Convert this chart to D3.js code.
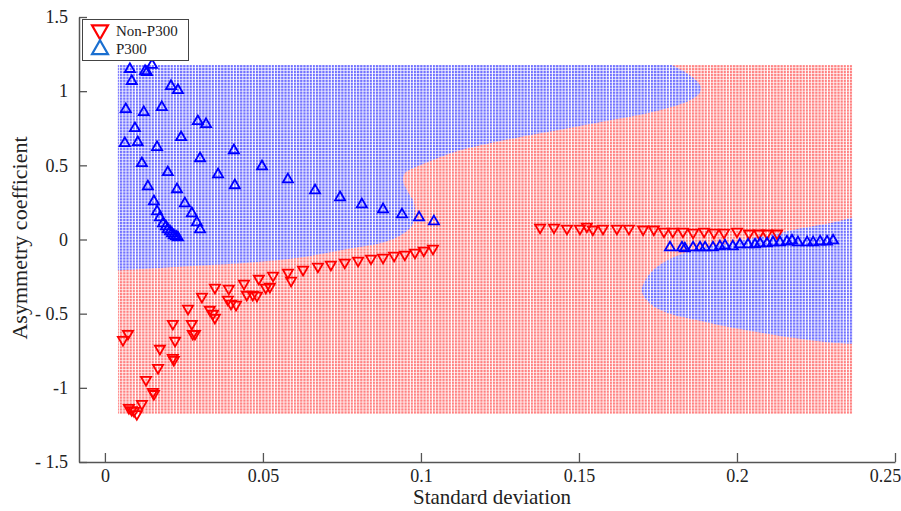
<!DOCTYPE html>
<html>
<head>
<meta charset="utf-8">
<script src="https://cdn.jsdelivr.net/npm/d3@7"></script>
<style>
  body { margin: 0; background: #fff; }
  svg { display: block; font-family: "Liberation Serif", "Times New Roman", serif; }
</style>
</head>
<body>
<div id="chart"></div>
<script>
// axes
const xTicks = [0, 0.05, 0.1, 0.15, 0.2, 0.25];
const xTickLabels = ["0", "0.05", "0.1", "0.15", "0.2", "0.25"];
const yTicks = [1.5, 1, 0.5, 0, -0.5, -1, -1.5];
const yTickLabels = ["1.5", "1", "0.5", "0", "- 0.5", "-1", "- 1.5"];

// extent of the classified grid
const gridX = [0.0041, 0.2365];
const gridY = [-1.176, 1.176];

// decision boundaries (data units)
const boundaryLeft = [
  [0.1794, 1.176], [0.1851, 1.108], [0.1883, 1.041], [0.1883, 0.993], [0.1851, 0.939],
  [0.1756, 0.872], [0.1566, 0.791], [0.1377, 0.716], [0.1218, 0.649], [0.1123, 0.601],
  [0.1060, 0.554], [0.0997, 0.500], [0.0949, 0.446], [0.0943, 0.399], [0.0956, 0.331],
  [0.0975, 0.264], [0.0981, 0.196], [0.0972, 0.095], [0.0934, 0.027], [0.0880, -0.020],
  [0.0775, -0.061], [0.0617, -0.122], [0.0459, -0.155], [0.0301, -0.176], [0.0041, -0.209]
];
const boundaryRight = [
  [0.2364, 0.149], [0.2304, 0.115], [0.2199, 0.074], [0.2095, 0.027], [0.1987, -0.020],
  [0.1883, -0.061], [0.1778, -0.142], [0.1725, -0.230], [0.1699, -0.345], [0.1725, -0.432],
  [0.1778, -0.493], [0.1883, -0.547], [0.1987, -0.595], [0.2095, -0.635], [0.2199, -0.669],
  [0.2304, -0.696], [0.2364, -0.703]
];

// P300 samples
const p300Cluster = [
  [0.0079, 1.149], [0.0127, 1.135], [0.0133, 1.128], [0.0149, 1.176], [0.0085, 1.068],
  [0.0209, 1.034], [0.0231, 1.007], [0.0066, 0.878], [0.0123, 0.858], [0.0180, 0.892],
  [0.0095, 0.750], [0.0294, 0.797], [0.0320, 0.777], [0.0063, 0.649], [0.0104, 0.655],
  [0.0241, 0.689], [0.0165, 0.622], [0.0408, 0.601], [0.0117, 0.514], [0.0301, 0.547],
  [0.0199, 0.453], [0.0358, 0.439], [0.0497, 0.493], [0.0411, 0.365], [0.0136, 0.358],
  [0.0228, 0.338], [0.0579, 0.405], [0.0155, 0.257], [0.0253, 0.243], [0.0165, 0.189],
  [0.0275, 0.176], [0.0174, 0.149], [0.0291, 0.115], [0.0184, 0.108], [0.0301, 0.068],
  [0.0193, 0.088], [0.0199, 0.068], [0.0206, 0.054], [0.0212, 0.041], [0.0218, 0.027],
  [0.0225, 0.020], [0.0231, 0.014],
  [0.0665, 0.331], [0.0744, 0.284], [0.0813, 0.236], [0.0880, 0.203], [0.0940, 0.169],
  [0.0994, 0.149], [0.1041, 0.122]
];
const p300Row = [
  [0.1788, -0.054], [0.1826, -0.054], [0.1835, -0.061], [0.1861, -0.054], [0.1883, -0.054],
  [0.1899, -0.054], [0.1924, -0.054], [0.1946, -0.047], [0.1962, -0.041], [0.1987, -0.047],
  [0.2009, -0.034], [0.2035, -0.034], [0.2057, -0.034], [0.2073, -0.027], [0.2095, -0.027],
  [0.2114, -0.020], [0.2136, -0.020], [0.2158, -0.014], [0.2174, -0.007], [0.2193, -0.020],
  [0.2222, -0.020], [0.2241, -0.020], [0.2263, -0.014], [0.2285, -0.014], [0.2304, -0.007]
];

// Non-P300 samples
const nonP300Cluster = [
  [0.0073, -0.635], [0.0057, -0.676], [0.0076, -1.135], [0.0085, -1.149], [0.0092, -1.155],
  [0.0101, -1.176], [0.0117, -1.108], [0.0130, -0.946], [0.0152, -1.027], [0.0155, -1.041],
  [0.0168, -0.865], [0.0174, -0.736], [0.0215, -0.797], [0.0218, -0.811], [0.0222, -0.682],
  [0.0215, -0.568], [0.0275, -0.568], [0.0278, -0.635], [0.0285, -0.635], [0.0263, -0.466],
  [0.0307, -0.385], [0.0332, -0.473], [0.0342, -0.500], [0.0348, -0.527], [0.0348, -0.324],
  [0.0392, -0.331], [0.0389, -0.405], [0.0399, -0.432], [0.0415, -0.439], [0.0440, -0.297],
  [0.0449, -0.372], [0.0468, -0.372], [0.0481, -0.378], [0.0487, -0.264], [0.0509, -0.324],
  [0.0522, -0.318], [0.0532, -0.243], [0.0589, -0.277], [0.0579, -0.223], [0.0627, -0.203],
  [0.0674, -0.182], [0.0715, -0.169], [0.0759, -0.155], [0.0801, -0.142], [0.0842, -0.128],
  [0.0880, -0.122], [0.0915, -0.108], [0.0949, -0.101], [0.0981, -0.088], [0.1009, -0.074],
  [0.1038, -0.061]
];
const nonP300Row = [
  [0.1377, 0.081], [0.1421, 0.081], [0.1462, 0.074], [0.1503, 0.074], [0.1525, 0.088],
  [0.1544, 0.068], [0.1576, 0.074], [0.1620, 0.074], [0.1658, 0.074], [0.1703, 0.068],
  [0.1737, 0.068], [0.1769, 0.054], [0.1797, 0.054], [0.1829, 0.054], [0.1861, 0.047],
  [0.1896, 0.054], [0.1927, 0.047], [0.1959, 0.047], [0.2000, 0.054], [0.2038, 0.041],
  [0.2070, 0.041], [0.2095, 0.041], [0.2127, 0.041]
];

const width = 901, height = 511;
const red = "#ff0000", blue = "#0000ff";

const x = d3.scaleLinear().domain([-0.0082, 0.25]).range([79, 895]);
const y = d3.scaleLinear().domain([-1.5, 1.5]).range([462, 17]);

const svg = d3.select("#chart").append("svg")
  .attr("width", width)
  .attr("height", height);

// dotted mesh look of the classified grid
const defs = svg.append("defs");
function meshPattern(id, color) {
  const p = defs.append("pattern")
    .attr("id", id)
    .attr("patternUnits", "userSpaceOnUse")
    .attr("width", 3.16)
    .attr("height", 2.96);
  p.append("rect").attr("width", 3.16).attr("height", 2.96).attr("fill", "#fff");
  p.append("rect").attr("width", 2.2).attr("height", 2.3).attr("fill", color);
}
meshPattern("meshRed", "#ff8080");
meshPattern("meshBlue", "#7070ff");

defs.append("clipPath").attr("id", "gridClip")
  .append("rect")
  .attr("x", x(gridX[0]))
  .attr("y", y(gridY[1]))
  .attr("width", x(gridX[1]) - x(gridX[0]))
  .attr("height", y(gridY[0]) - y(gridY[1]));

const regions = svg.append("g").attr("clip-path", "url(#gridClip)");

regions.append("rect")
  .attr("x", x(gridX[0]))
  .attr("y", y(gridY[1]))
  .attr("width", x(gridX[1]) - x(gridX[0]))
  .attr("height", y(gridY[0]) - y(gridY[1]))
  .attr("fill", "url(#meshRed)");

const curve = d3.line()
  .x(d => x(d[0]))
  .y(d => y(d[1]))
  .curve(d3.curveCatmullRom.alpha(0.5));

// upper-left P300 region
regions.append("path")
  .attr("d", "M" + x(gridX[0] - 0.01) + "," + y(gridY[1] + 0.1) +
    "L" + x(boundaryLeft[0][0]) + "," + y(gridY[1] + 0.1) +
    curve(boundaryLeft).replace(/^M/, "L") +
    "L" + x(gridX[0] - 0.01) + "," + y(boundaryLeft[boundaryLeft.length - 1][1]) + "Z")
  .attr("fill", "url(#meshBlue)");

// right P300 region
regions.append("path")
  .attr("d", curve(boundaryRight) +
    "L" + x(gridX[1] + 0.01) + "," + y(boundaryRight[boundaryRight.length - 1][1]) +
    "L" + x(gridX[1] + 0.01) + "," + y(boundaryRight[0][1]) + "Z")
  .attr("fill", "url(#meshBlue)");

// axes
const xAxis = d3.axisBottom(x)
  .tickValues(xTicks)
  .tickFormat((d, i) => xTickLabels[i])
  .tickSize(-9)
  .tickSizeOuter(0)
  .tickPadding(7);
const yAxis = d3.axisLeft(y)
  .tickValues(yTicks)
  .tickFormat((d, i) => yTickLabels[i])
  .tickSize(-8)
  .tickSizeOuter(0)
  .tickPadding(11);

const gx = svg.append("g").attr("transform", "translate(0," + y(-1.5) + ")").call(xAxis);
const gy = svg.append("g").attr("transform", "translate(" + x(-0.0082) + ",0)").call(yAxis);

[gx, gy].forEach(g => {
  g.select(".domain").attr("stroke", "#555").attr("stroke-width", 1.5);
  g.selectAll(".tick line").attr("stroke", "#555").attr("stroke-width", 1.3);
  g.selectAll(".tick text")
    .attr("fill", "#222")
    .style("font-family", "'Liberation Serif', serif")
    .style("font-size", "18px");
});
gx.selectAll(".tick text").filter((d, i) => i === xTicks.length - 1).attr("dx", "-10");

svg.append("text")
  .attr("x", 492)
  .attr("y", 504)
  .attr("text-anchor", "middle")
  .attr("fill", "#222")
  .style("font-size", "21px")
  .text("Standard deviation");

svg.append("text")
  .attr("transform", "translate(27,238) rotate(-90)")
  .attr("text-anchor", "middle")
  .attr("fill", "#222")
  .style("font-size", "22px")
  .text("Asymmetry coefficient");

// samples
const tri = d3.symbol(d3.symbolTriangle, 44);

function drawPoints(data, color, down) {
  svg.append("g").selectAll("path")
    .data(data)
    .join("path")
    .attr("d", tri)
    .attr("transform", d => "translate(" + x(d[0]) + "," + y(d[1]) + ")" + (down ? " rotate(180)" : ""))
    .attr("fill", "none")
    .attr("stroke", color)
    .attr("stroke-width", 1.8);
}
drawPoints(nonP300Cluster, red, true);
drawPoints(nonP300Row, red, true);
drawPoints(p300Cluster, blue, false);
drawPoints(p300Row, blue, false);

// legend
const legend = svg.append("g");
legend.append("rect")
  .attr("x", 82.5).attr("y", 19.5)
  .attr("width", 106).attr("height", 41)
  .attr("fill", "#fff")
  .attr("stroke", "#444")
  .attr("stroke-width", 1);
const legendItems = [
  { label: "Non-P300", color: red, down: true },
  { label: "P300", color: "#1a6fd0", down: false }
];
legendItems.forEach((d, i) => {
  const cy = 31 + i * 17.5;
  legend.append("path")
    .attr("d", d3.symbol(d3.symbolTriangle, 110)())
    .attr("transform", "translate(100," + (cy + (d.down ? -1 : 1)) + ")" + (d.down ? " rotate(180)" : ""))
    .attr("fill", "none")
    .attr("stroke", d.color)
    .attr("stroke-width", 2.2);
  legend.append("text")
    .attr("x", 116)
    .attr("y", cy + 5)
    .attr("fill", "#222")
    .style("font-size", "15px")
    .text(d.label);
});
</script>
</body>
</html>
